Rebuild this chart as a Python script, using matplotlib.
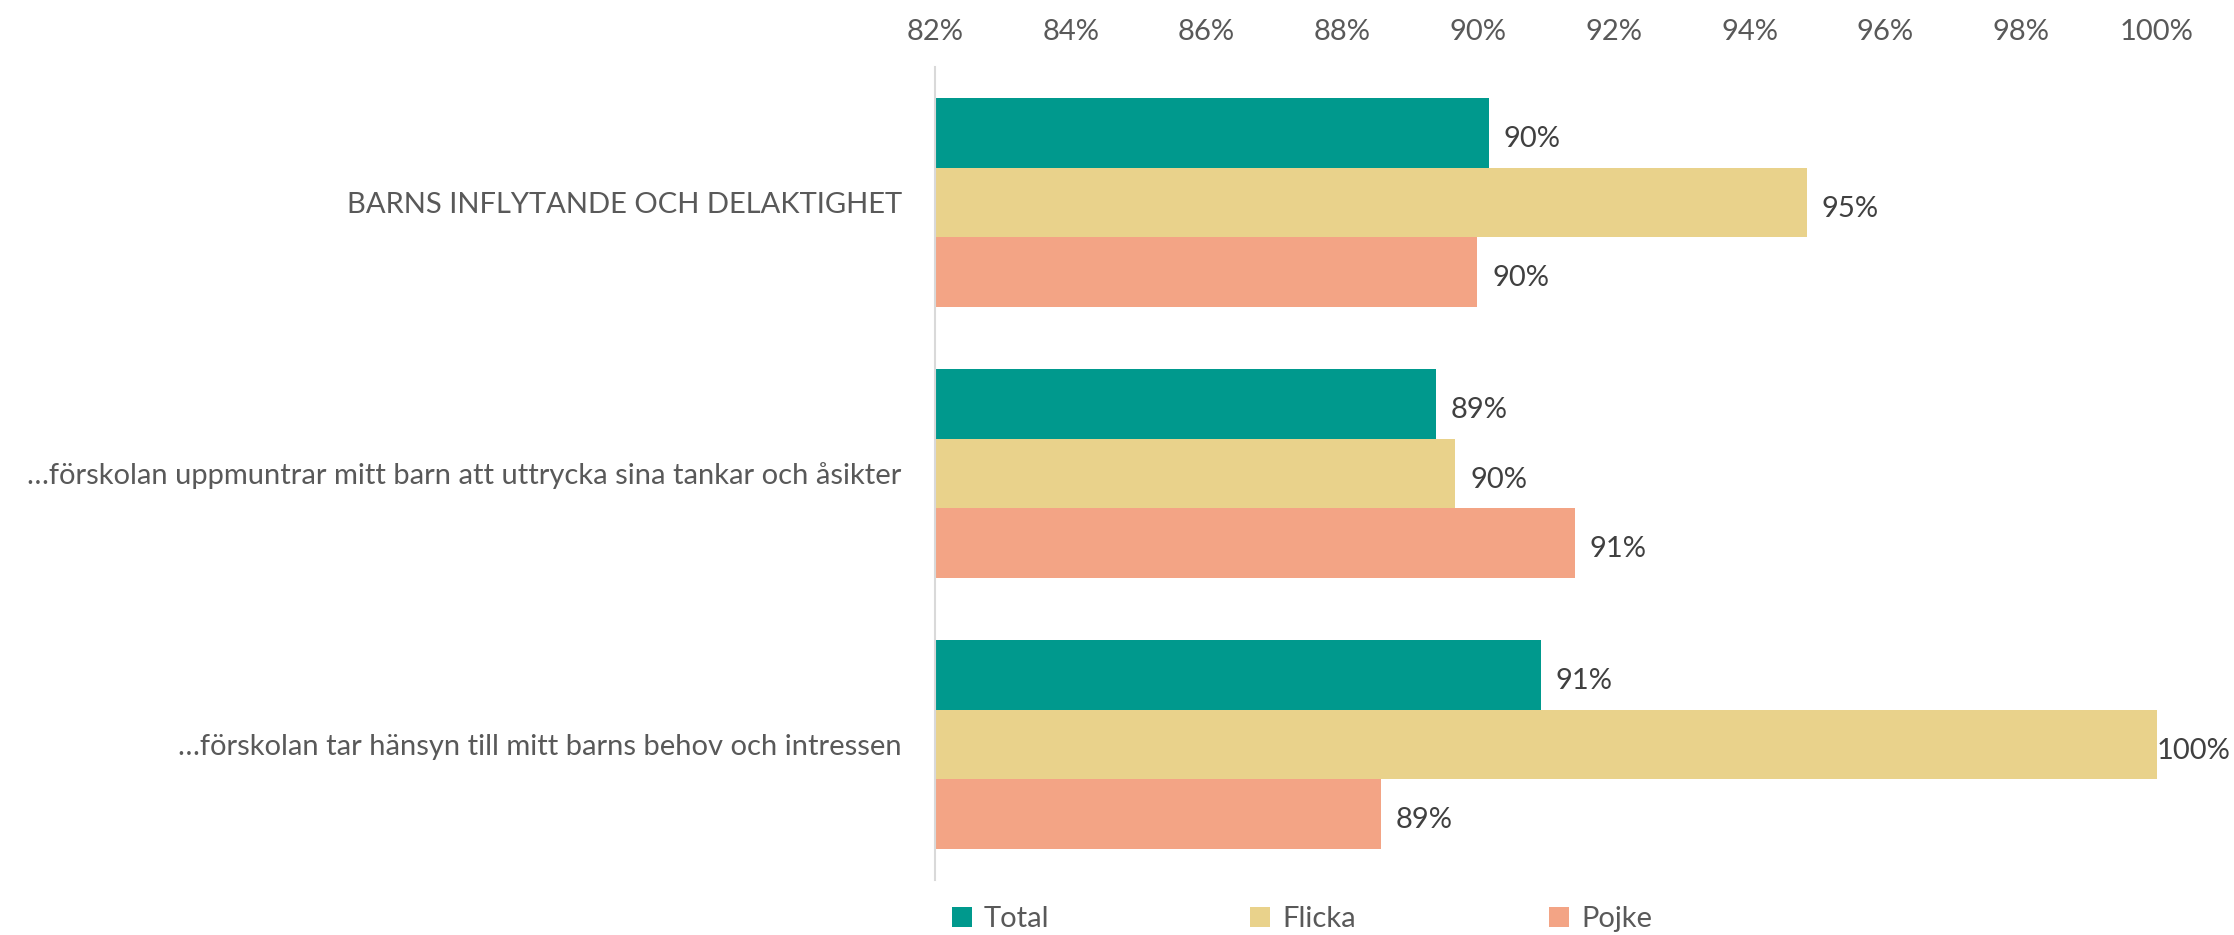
import matplotlib
matplotlib.use("Agg")
import matplotlib.pyplot as plt
from matplotlib.patches import Patch
from matplotlib.ticker import FuncFormatter
import numpy as np

categories = [
    "BARNS INFLYTANDE OCH DELAKTIGHET",
    "…förskolan uppmuntrar mitt barn att uttrycka sina tankar och åsikter",
    "…förskolan tar hänsyn till mitt barns behov och intressen",
]
series_names = ["Total", "Flicka", "Pojke"]
total = [90.16, 89.38, 90.92]
flicka = [94.84, 89.66, 100.0]
pojke = [89.99, 91.42, 88.57]
colors = ["#00998D", "#E9D28B", "#F3A485"]
xticks = [82, 84, 86, 88, 90, 92, 94, 96, 98, 100]

plt.rcParams["font.family"] = ["Lato", "DejaVu Sans"]
FS = 21

fig = plt.figure(figsize=(22.34, 9.35), dpi=100)
ax = fig.add_axes([935/2234, 1-880/935, (2157-935)/2234, (880-67)/935])

y = np.arange(len(categories))
w = 0.2565
series = [total, flicka, pojke]
for k, (vals, col) in enumerate(zip(series, colors)):
    pos = y + (k - 1) * w
    ax.barh(pos, vals, height=w, left=0, color=col, edgecolor="none", zorder=2)
    for p, v in zip(pos, vals):
        off = 0 if v >= xticks[-1] else 15
        ax.annotate(f"{v:.0f}%", xy=(v, p), xytext=(off, -6), textcoords="offset pixels",
                    ha="left", va="center", fontsize=FS, color="#404040")

ax.set_xlim(82, 100)
ax.set_ylim(2.5, -0.5)
ax.set_xticks(xticks)
ax.xaxis.set_major_formatter(FuncFormatter(lambda v, _: f"{v:.0f}%"))
ax.xaxis.tick_top()
ax.tick_params(axis="x", length=0, pad=16, labelsize=FS, labelcolor="#595959")
ax.set_yticks(y)
ax.set_yticklabels(categories)
ax.tick_params(axis="y", length=0, pad=24, labelsize=FS, labelcolor="#595959")
for s in ["top", "right", "bottom"]:
    ax.spines[s].set_visible(False)
ax.spines["left"].set_color("#D9D9D9")
ax.spines["left"].set_linewidth(1.5)

leg_x = [952, 1250, 1549]
for name, col, lx in zip(series_names, colors, leg_x):
    leg = fig.legend(handles=[Patch(facecolor=col, edgecolor="none")], labels=[name],
                     loc="center left", bbox_to_anchor=(lx/2234, 1-919/935),
                     frameon=False, fontsize=FS, handlelength=0.7, handleheight=0.7,
                     handletextpad=0.4, borderaxespad=0, borderpad=0)
    for t in leg.get_texts():
        t.set_color("#595959")

fig.savefig("out.png", dpi=100)
